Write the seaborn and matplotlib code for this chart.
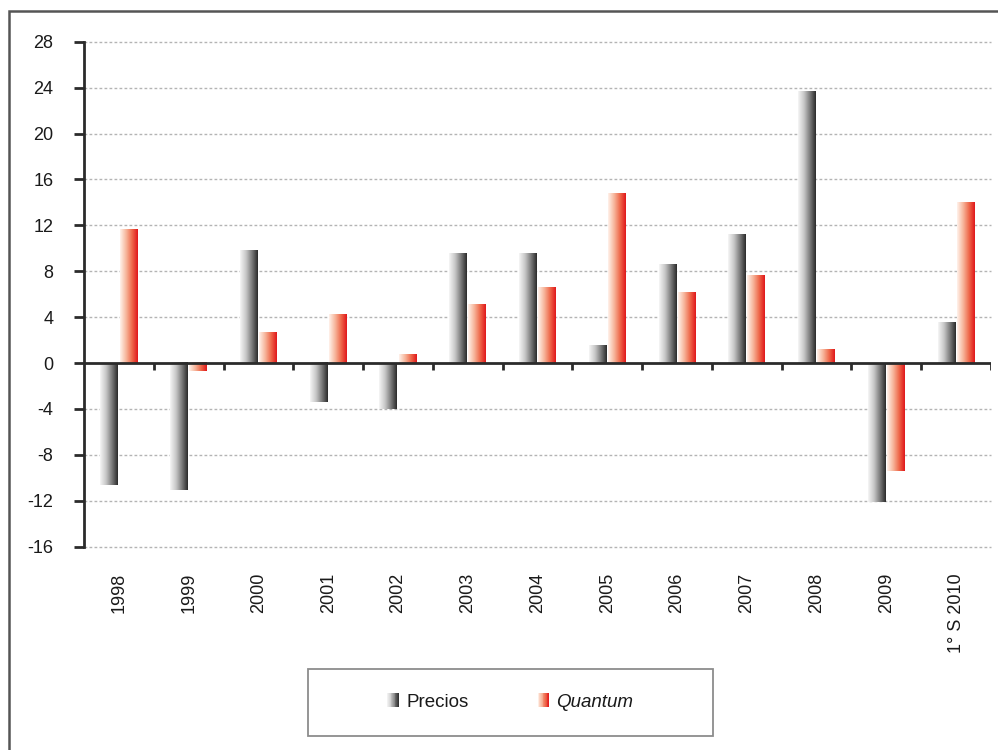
import numpy as np
import pandas as pd
import matplotlib
matplotlib.use("Agg")
import matplotlib.pyplot as plt
import seaborn as sns
from matplotlib.colors import LinearSegmentedColormap
from matplotlib.patches import Rectangle
from matplotlib.legend_handler import HandlerBase

# Variación anual (%) de precios y quantum
periodos = ["1998", "1999", "2000", "2001", "2002", "2003", "2004",
            "2005", "2006", "2007", "2008", "2009", "1° S 2010"]
precios = [-10.6, -11.1, 9.8, -3.4, -4.0, 9.5, 9.5, 1.5, 8.6, 11.2, 23.7, -12.1, 3.5]
quantum = [11.6, -0.7, 2.7, 4.2, 0.7, 5.1, 6.6, 14.8, 6.1, 7.6, 1.2, -9.4, 14.0]
series = ["Precios", "Quantum"]
y_ticks = list(range(-16, 29, 4))

df = pd.DataFrame({
    "periodo": periodos * 2,
    "variacion": precios + quantum,
    "serie": [series[0]] * len(periodos) + [series[1]] * len(periodos),
})

sns.set_theme(style="white")
plt.rcParams["font.family"] = ["Liberation Sans", "DejaVu Sans"]

grad_gris = LinearSegmentedColormap.from_list(
    "gris", ["#f6f6f6", "#c8c8c8", "#7c7c7c", "#2a2a2a"])
grad_rojo = LinearSegmentedColormap.from_list(
    "rojo", ["#fff3ec", "#f7b89e", "#ef6a4c", "#e0161a"])
cmaps = [grad_gris, grad_rojo]

fig = plt.figure(figsize=(9.98, 7.5), dpi=100)
ax = fig.add_axes([0.0842, 0.2711, 0.9088, 0.6733])

sns.barplot(data=df, x="periodo", y="variacion", hue="serie",
            order=periodos, hue_order=series, width=0.55, gap=0.07,
            palette=["#555555", "#e0161a"], legend=False, ax=ax,
            edgecolor="none", linewidth=0, zorder=3)

# Relleno en degradado horizontal para cada barra
ramp = np.linspace(0, 1, 256).reshape(1, -1)
for cont, cmap in zip(ax.containers, cmaps):
    for bar in cont:
        x0, w = bar.get_x(), bar.get_width()
        y0, h = bar.get_y(), bar.get_height()
        lo, hi = min(y0, y0 + h), max(y0, y0 + h)
        bar.set_facecolor("none")
        ax.imshow(ramp, cmap=cmap, extent=[x0, x0 + w, lo, hi],
                  aspect="auto", interpolation="bilinear", zorder=3)

n = len(periodos)
ax.set_xlim(-0.5, n - 0.5)
ax.set_ylim(min(y_ticks), max(y_ticks))
ax.set_yticks(y_ticks)
ax.set_yticklabels([str(t) for t in y_ticks])
ax.set_xlabel("")
ax.set_ylabel("")

# Líneas de guía punteadas (excepto en cero)
for t in y_ticks:
    if t != 0:
        ax.axhline(t, color="#b4b4b4", lw=1.0, ls=(0, (2, 1.6)), zorder=1,
                   clip_on=False)

# Eje horizontal en cero con marcas entre categorías
ax.axhline(0, color="#2b2b2b", lw=2, zorder=4)
ax.vlines(np.arange(0.5, n, 1), -0.6, 0, color="#2b2b2b", lw=2, zorder=4)

for s in ["top", "right", "bottom"]:
    ax.spines[s].set_visible(False)
ax.spines["left"].set_color("#2b2b2b")
ax.spines["left"].set_linewidth(2)
ax.spines["left"].set_zorder(5)

ax.tick_params(axis="y", direction="out", length=7, width=2, color="#2b2b2b",
               pad=15, labelsize=13, labelcolor="#1a1a1a", left=True)
ax.tick_params(axis="x", length=0, pad=19, labelsize=13,
               labelcolor="#1a1a1a", labelrotation=90)
for lbl in ax.get_xticklabels():
    lbl.set_verticalalignment("top")

# Marco exterior
fig.patches.append(Rectangle((9 / 998, -0.2), 1.2, 0.2 + (1 - 11 / 750),
                             transform=fig.transFigure, fill=False,
                             edgecolor="#555555", lw=1.8))

# Leyenda con muestras en degradado
class GradientHandler(HandlerBase):
    def __init__(self, cmap):
        super().__init__()
        self.cmap = cmap

    def create_artists(self, legend, orig_handle, xdescent, ydescent,
                       width, height, fontsize, trans):
        steps = 14
        arts = []
        for i in range(steps):
            arts.append(Rectangle((-xdescent + width * i / steps, -ydescent),
                                  width / steps * 1.05, height,
                                  facecolor=self.cmap((i + 0.5) / steps),
                                  edgecolor="none", transform=trans))
        return arts

handles = [Rectangle((0, 0), 1, 1) for _ in series]
leg = fig.legend(handles, series, ncol=2, loc="center",
                 bbox_to_anchor=(510.5 / 998, 1 - 702 / 750),
                 frameon=False, fontsize=13.5, handlelength=0.6,
                 handleheight=0.75, handletextpad=0.4, columnspacing=3.7,
                 handler_map={handles[0]: GradientHandler(grad_gris),
                              handles[1]: GradientHandler(grad_rojo)})
leg.get_texts()[1].set_style("italic")
for t in leg.get_texts():
    t.set_color("#1a1a1a")

fig.patches.append(Rectangle((308 / 998, 1 - 736 / 750), (713 - 308) / 998,
                             (736 - 669) / 750, transform=fig.transFigure,
                             fill=False, edgecolor="#8c8c8c", lw=1.3))

fig.savefig("out.png", dpi=100)
